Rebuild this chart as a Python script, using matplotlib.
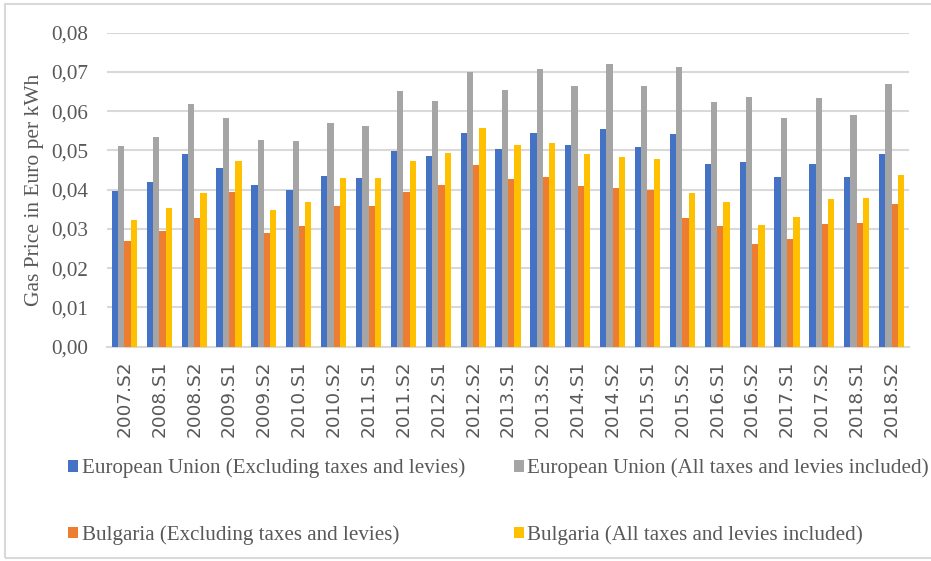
import matplotlib.pyplot as plt
import numpy as np
from matplotlib.patches import Rectangle
from matplotlib.ticker import FuncFormatter

# semesters on the x axis
periods = ['2007.S2', '2008.S1', '2008.S2', '2009.S1', '2009.S2', '2010.S1',
           '2010.S2', '2011.S1', '2011.S2', '2012.S1', '2012.S2', '2013.S1',
           '2013.S2', '2014.S1', '2014.S2', '2015.S1', '2015.S2', '2016.S1',
           '2016.S2', '2017.S1', '2017.S2', '2018.S1', '2018.S2']

# Euro per kWh
eu_excl = [0.0397, 0.0420, 0.0491, 0.0455, 0.0411, 0.0399, 0.0435, 0.0429,
           0.0499, 0.0486, 0.0544, 0.0504, 0.0545, 0.0515, 0.0555, 0.0509,
           0.0543, 0.0465, 0.0470, 0.0432, 0.0465, 0.0432, 0.0490]
eu_incl = [0.0512, 0.0535, 0.0619, 0.0583, 0.0526, 0.0523, 0.0571, 0.0563,
           0.0651, 0.0625, 0.0701, 0.0654, 0.0708, 0.0665, 0.0720, 0.0664,
           0.0713, 0.0623, 0.0636, 0.0583, 0.0634, 0.0590, 0.0669]
bg_excl = [0.0270, 0.0296, 0.0327, 0.0394, 0.0290, 0.0307, 0.0358, 0.0358,
           0.0393, 0.0412, 0.0464, 0.0427, 0.0432, 0.0409, 0.0404, 0.0398,
           0.0327, 0.0308, 0.0261, 0.0275, 0.0313, 0.0316, 0.0364]
bg_incl = [0.0323, 0.0354, 0.0392, 0.0473, 0.0348, 0.0369, 0.0431, 0.0430,
           0.0472, 0.0494, 0.0557, 0.0513, 0.0518, 0.0491, 0.0483, 0.0477,
           0.0392, 0.0369, 0.0310, 0.0330, 0.0376, 0.0380, 0.0437]

labels = ['European Union (Excluding taxes and levies)',
          'European Union (All taxes and levies included)',
          'Bulgaria (Excluding taxes and levies)',
          'Bulgaria (All taxes and levies included)']
colors = ['#4472C4', '#A5A5A5', '#ED7D31', '#FFC000']
txt = '#595959'
serif = ['Liberation Serif', 'DejaVu Serif']

W, H = 931, 561
fig = plt.figure(figsize=(W / 100, H / 100), dpi=100)
# light frame round the chart (right edge is cut off in the original)
fig.patches.append(Rectangle((5 / W, 3 / H), 940 / W, 554 / H, transform=fig.transFigure,
                             fill=False, edgecolor='#D9D9D9', linewidth=1.5))

left, right, top, bottom = 107, 909, 32.7, 346.7
ax = fig.add_axes([left / W, 1 - bottom / H, (right - left) / W, (bottom - top) / H])

x = np.arange(len(periods))
bw = 0.18
series = [eu_excl, eu_incl, bg_excl, bg_incl]
bars = []
for i, (vals, c, lab) in enumerate(zip(series, colors, labels)):
    b = ax.bar(x + (i - 1.5) * bw, vals, bw, color=c, label=lab, zorder=3)
    bars.append(b)

ax.set_xlim(-0.5, len(periods) - 0.5)
ax.set_ylim(0, 0.08)
ax.set_yticks(np.arange(0, 0.0801, 0.01))
ax.yaxis.set_major_formatter(FuncFormatter(lambda v, p: f'{v:.2f}'.replace('.', ',')))
ax.grid(axis='y', color='#D9D9D9', linewidth=1.5, zorder=0)
for s in ['top', 'right', 'left']:
    ax.spines[s].set_visible(False)
ax.spines['bottom'].set_color('#D9D9D9')
ax.spines['bottom'].set_linewidth(1.5)
ax.tick_params(length=0)
ax.tick_params(axis='y', pad=13.5)
ax.tick_params(axis='x', pad=10)

ax.set_xticks(x)
ax.set_xticklabels(periods, rotation=90, fontsize=13.3, color=txt, family='DejaVu Sans')
for t in ax.get_yticklabels():
    t.set_family(serif)
    t.set_fontsize(15.3)
    t.set_color(txt)

ax.set_ylabel('Gas Price in Euro per kWh', family=serif, fontsize=15.5, color=txt, labelpad=5)

# legend fills by column, so put the handles in column order
order = [0, 2, 1, 3]
leg = fig.legend(handles=[bars[i] for i in order], labels=[labels[i] for i in order],
                 loc='upper left', ncol=2,
                 bbox_to_anchor=(60 / W, 1 - 450 / H), frameon=False,
                 prop={'family': serif, 'size': 15.1}, labelcolor=txt,
                 handlelength=0.48, handleheight=0.48, handletextpad=0.15,
                 columnspacing=2.35, labelspacing=2.25, borderaxespad=0)

fig.savefig('out.png', dpi=100)
